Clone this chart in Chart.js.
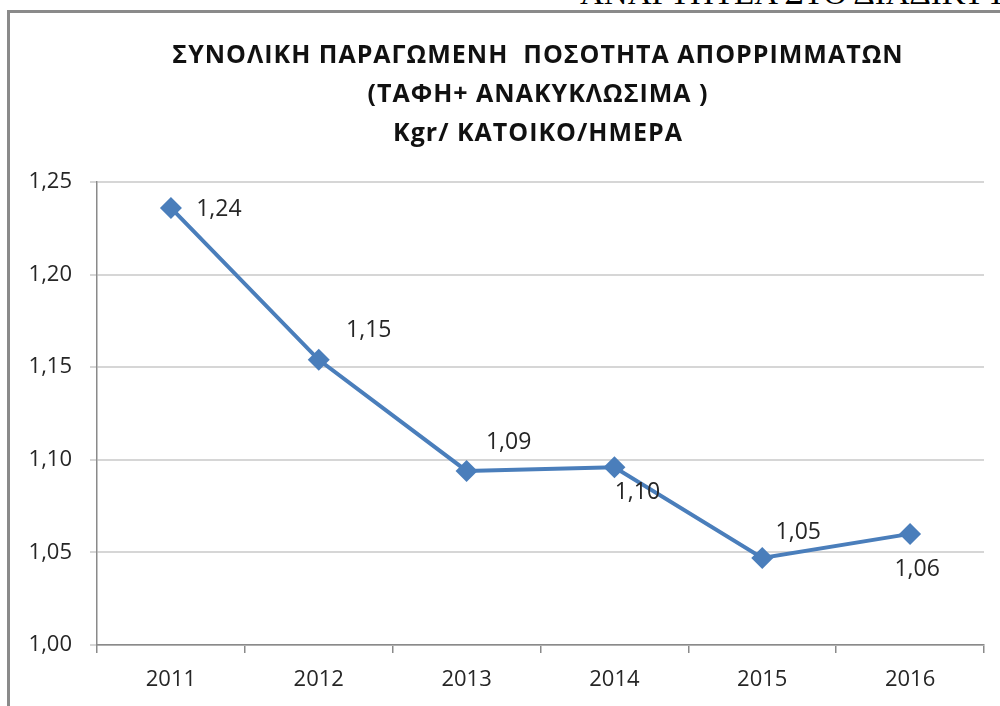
<!DOCTYPE html>
<html>
<head>
<meta charset="utf-8">
<script src="https://cdn.jsdelivr.net/npm/chart.js@4.4.0/dist/chart.umd.min.js"></script>
<style>
  html, body { margin: 0; padding: 0; background: #fff; overflow: hidden; }
  #wrap { position: relative; width: 1000px; height: 706px; overflow: hidden; }
  #frame { position: absolute; left: 7px; top: 10px; width: 1100px; height: 800px;
           border-left: 3px solid #8a8a8a; border-top: 3px solid #8a8a8a; }
  #header { position: absolute; left: 580px; top: -25px; white-space: nowrap;
            font-family: "Liberation Serif", serif; font-size: 33px; color: #000; }
  canvas { position: absolute; left: 0; top: 0; }
</style>
</head>
<body>
<div id="wrap">
  <div id="header">ΑΝΑΡΤΗΤΕΑ ΣΤΟ ΔΙΑΔΙΚΤΥΟ</div>
  <div id="frame"></div>
  <canvas id="myChart" width="1000" height="706"></canvas>
</div>
<script>
const years = ['2011', '2012', '2013', '2014', '2015', '2016'];
const kgPerResident = [1.236, 1.154, 1.094, 1.096, 1.047, 1.060];
const titleLines = ['ΣΥΝΟΛΙΚΗ ΠΑΡΑΓΩΜΕΝΗ  ΠΟΣΟΤΗΤΑ ΑΠΟΡΡΙΜΜΑΤΩΝ', '(ΤΑΦΗ+ ΑΝΑΚΥΚΛΩΣΙΜΑ )', 'Kgr/ ΚΑΤΟΙΚΟ/ΗΜΕΡΑ'];

// where each value label sits relative to its point (dx, dy)
const labelOffsets = [[48, 2], [50, -29], [42, -28], [23, 25], [36, -26], [7, 36]];

function fmt(v) {
    return v.toFixed(2).replace('.', ',');
}

const labelPlugin = {
    id: 'valueLabels',
    afterDatasetsDraw(chart) {
        const ctx = chart.ctx;
        const meta = chart.getDatasetMeta(0);
        ctx.save();
        ctx.font = '23px "Open Sans"';
        ctx.fillStyle = '#262626';
        ctx.textAlign = 'center';
        ctx.textBaseline = 'middle';
        meta.data.forEach((pt, i) => {
            const off = labelOffsets[i];
            ctx.fillText(fmt(kgPerResident[i]), pt.x + off[0], pt.y + off[1]);
        });
        ctx.restore();
    }
};

const titlePlugin = {
    id: 'bigTitle',
    afterDraw(chart) {
        const ctx = chart.ctx;
        ctx.save();
        ctx.font = 'bold 25px "Open Sans"';
        ctx.letterSpacing = '1px';
        ctx.fillStyle = '#111';
        ctx.textAlign = 'center';
        ctx.textBaseline = 'middle';
        titleLines.forEach((t, i) => ctx.fillText(t, 538, 56 + i * 39));
        ctx.restore();
    }
};

const ctx = document.getElementById('myChart').getContext('2d');
const myChart = new Chart(ctx, {
    type: 'line',
    data: {
        labels: years,
        datasets: [{
            data: kgPerResident,
            borderColor: '#4a7ebb',
            backgroundColor: '#4a7ebb',
            borderWidth: 4,
            pointStyle: 'rectRot',
            pointRadius: 11,
            pointBorderWidth: 0,
            tension: 0
        }]
    },
    options: {
        responsive: false,
        animation: false,
        layout: { padding: { top: 182, right: 16, left: 0, bottom: 0 } },
        plugins: {
            legend: { display: false },
            title: { display: false },
            tooltip: { enabled: false }
        },
        scales: {
            x: {
                offset: true,
                grid: { display: true, offset: true, drawOnChartArea: false, color: '#8a8a8a', tickLength: 8, lineWidth: 1.5 },
                border: { color: '#8a8a8a', width: 1.5 },
                ticks: { color: '#262626', font: { family: 'Open Sans', size: 22 }, padding: 14 },
                afterFit(scale) { scale.height = 61; }
            },
            y: {
                min: 1,
                max: 1.25,
                grid: { color: '#d6d6d6', lineWidth: 2, tickLength: 7 },
                border: { color: '#8a8a8a', width: 1.5 },
                ticks: {
                    stepSize: 0.05,
                    color: '#262626',
                    font: { family: 'Open Sans', size: 22 },
                    padding: 18,
                    callback: v => fmt(v)
                },
                afterFit(scale) { scale.width = 97; }
            }
        }
    },
    plugins: [labelPlugin, titlePlugin]
});
</script>
</body>
</html>
